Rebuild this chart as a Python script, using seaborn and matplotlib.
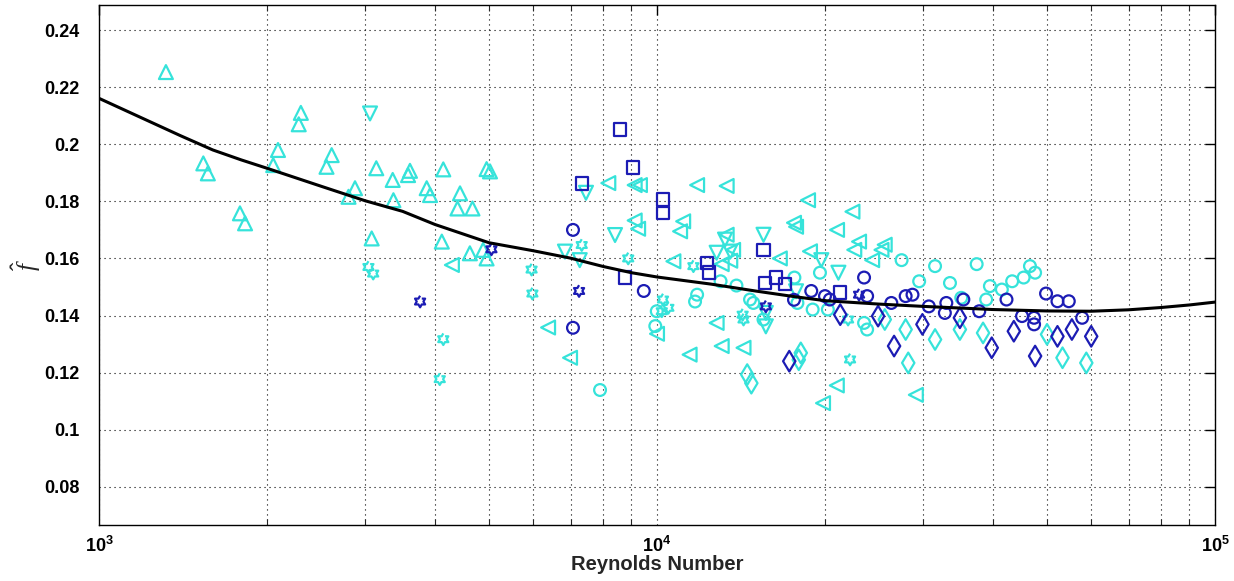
import numpy as np
import pandas as pd
import seaborn as sns
import matplotlib.pyplot as plt
from matplotlib.ticker import LogLocator, NullFormatter

# fitted curve
curve_re = [1000, 1200, 1400, 1600, 1800, 2000, 2500, 3000, 3500, 4000, 5000,
            6000, 7000, 8000, 9000, 10000, 12500, 15000, 17500, 20000, 25000,
            30000, 40000, 50000, 60000, 70000, 80000, 90000, 100000]
curve_f = [0.2161, 0.2090, 0.2030, 0.1980, 0.1945, 0.1916, 0.1853, 0.1802,
           0.1765, 0.1719, 0.1655, 0.1627, 0.1601, 0.1572, 0.1550, 0.1535,
           0.1510, 0.1486, 0.1467, 0.1452, 0.1440, 0.1432, 0.1421, 0.1416,
           0.1415, 0.1420, 0.1428, 0.1437, 0.1447]

# cyan series
c_up_re = [1318, 2300, 2280, 2093, 2052, 2612, 2557, 1538, 1567, 2876, 2800,
           1789, 1827, 3081, 3140, 3360, 3370, 3608, 3580, 3866, 3920, 4140,
           4436, 4390, 4670, 4950, 5020, 4115, 4620, 4880, 4950]
c_up_f = [0.2253, 0.211, 0.207, 0.198, 0.1927, 0.1962, 0.1921, 0.1933, 0.1898,
          0.1846, 0.1816, 0.1758, 0.1723, 0.167, 0.1916, 0.1875, 0.1804, 0.1907,
          0.1892, 0.1846, 0.1822, 0.1912, 0.1828, 0.1775, 0.1775, 0.1913, 0.1905,
          0.1659, 0.1618, 0.163, 0.160]

c_down_re = [3060, 7460, 8410, 6840, 7270, 12790, 13240, 13530, 15520, 15670,
             19700, 21140, 17750, 15670]
c_down_f = [0.2108, 0.183, 0.1682, 0.1624, 0.1594, 0.162, 0.1666, 0.1624,
            0.1683, 0.1362, 0.1594, 0.155, 0.1485, 0.1409]

c_left_re = [4290, 6380, 6985, 8180, 9320, 9120, 9120, 9250, 10000, 10700,
             11800, 11140, 11000, 13330, 13060, 13530, 12790, 13060, 14290,
             11440, 13330, 18650, 17750, 17600, 22400, 21020, 23020, 22570,
             25250, 25590, 18800, 24300, 21000, 19840, 29100, 13690, 16600]
c_left_f = [0.1577, 0.1358, 0.1252, 0.1864, 0.1857, 0.1857, 0.1733, 0.1704,
            0.1336, 0.159, 0.1857, 0.173, 0.1695, 0.1683, 0.158, 0.1592, 0.1374,
            0.1293, 0.1287, 0.1263, 0.1854, 0.1804, 0.1711, 0.1725, 0.1764,
            0.170, 0.1659, 0.163, 0.163, 0.1648, 0.1625, 0.1594, 0.1155, 0.1093,
            0.1122, 0.163, 0.160]

c_circ_re = [7905, 9930, 9990, 11800, 11700, 13000, 14680, 15520, 13880, 14880,
             17630, 19590, 17850, 19010, 20240, 23500, 23800, 27440, 31500,
             37400, 29500, 33500, 35100, 38900, 39500, 41500, 43300, 45400,
             46600, 47600]
c_circ_f = [0.1139, 0.1363, 0.1415, 0.1473, 0.1449, 0.152, 0.1456, 0.1386,
            0.1505, 0.1444, 0.1533, 0.155, 0.1444, 0.1421, 0.1421, 0.1374,
            0.1351, 0.1594, 0.1573, 0.158, 0.152, 0.1514, 0.1462, 0.1456,
            0.1503, 0.1491, 0.152, 0.1533, 0.1573, 0.155]

c_diam_re = [14510, 14760, 18100, 17950, 25600, 27900, 28200, 31500, 34900,
             38400, 50000, 53300, 58800]
c_diam_f = [0.1193, 0.1163, 0.1269, 0.1245, 0.1386, 0.1351, 0.1234, 0.1316,
            0.1351, 0.1339, 0.1334, 0.1252, 0.1234]

c_hex_re = [3040, 3100, 4140, 4080, 5960, 5980, 7330, 8880, 10250, 10480,
            10200, 11620, 14240, 14290, 22000, 22180]
c_hex_f = [0.157, 0.1547, 0.1317, 0.1177, 0.1561, 0.1477, 0.1647, 0.160,
           0.1456, 0.1427, 0.1415, 0.1573, 0.1403, 0.1386, 0.1386, 0.1246]

# dark blue series
d_sq_re = [8585, 9050, 7330, 10250, 10250, 8770, 12280, 12400, 15520, 15600,
           16950, 16350, 21300]
d_sq_f = [0.2052, 0.1918, 0.1863, 0.1807, 0.176, 0.1533, 0.1585, 0.155,
          0.163, 0.1514, 0.151, 0.1533, 0.148]

d_plus_re = [4060, 6090, 8180, 10200, 12000, 14290, 16300, 18270, 20240,
             22400, 24580, 26580]
d_plus_f = [0.181, 0.1349, 0.1577, 0.1682, 0.1533, 0.1573, 0.1676, 0.1573,
            0.1573, 0.1569, 0.1539, 0.1533]

d_circ_re = [7070, 7070, 9470, 18900, 20000, 23500, 23800, 26300, 27900, 28700,
             30700, 33000, 32800, 35400, 37800, 42300, 49800, 52200, 54700,
             45100, 47400, 47400, 57800, 17600, 20400]
d_circ_f = [0.170, 0.1357, 0.1486, 0.1486, 0.1468, 0.1533, 0.1468, 0.1444,
            0.1468, 0.1473, 0.1432, 0.1444, 0.1409, 0.1456, 0.1415, 0.1456,
            0.1477, 0.145, 0.145, 0.1398, 0.1392, 0.1369, 0.1392, 0.1455, 0.1456]

d_diam_re = [17260, 21300, 24900, 26600, 29900, 34900, 43600, 39800, 47600,
             52200, 55400, 60000]
d_diam_f = [0.124, 0.1403, 0.1398, 0.1293, 0.1369, 0.1392, 0.1345, 0.1287,
            0.1258, 0.1327, 0.1351, 0.1327]

d_hex_re = [3762, 5050, 7250, 15670, 23020]
d_hex_f = [0.1449, 0.1632, 0.1486, 0.1432, 0.1473]

ytick_vals = [0.08, 0.10, 0.12, 0.14, 0.16, 0.18, 0.20, 0.22, 0.24]
ytick_labels = ['0.08', '0.1', '0.12', '0.14', '0.16', '0.18', '0.2', '0.22', '0.24']
xtick_vals = [1e3, 1e4, 1e5]
xtick_labels = [r'$\mathbf{10^{3}}$', r'$\mathbf{10^{4}}$', r'$\mathbf{10^{5}}$']

CYAN = '#36E3DA'
DARK = '#1C1CB4'

# six-pointed star (hexagram) marker outline
ang = np.deg2rad(np.arange(12) * 30 + 90)
rad = np.where(np.arange(12) % 2 == 0, 1.0, 0.577)
hexagram = list(zip(rad * np.cos(ang), rad * np.sin(ang)))

series = [
    (c_up_re, c_up_f, '^', CYAN, 100),
    (c_down_re, c_down_f, 'v', CYAN, 100),
    (c_left_re, c_left_f, '<', CYAN, 100),
    (c_circ_re, c_circ_f, 'o', CYAN, 72),
    (c_diam_re, c_diam_f, 'd', CYAN, 110),
    (c_hex_re, c_hex_f, hexagram, CYAN, 70),
    (d_sq_re, d_sq_f, 's', DARK, 80),
    (d_plus_re, d_plus_f, '+', DARK, 90),
    (d_circ_re, d_circ_f, 'o', DARK, 72),
    (d_diam_re, d_diam_f, 'd', DARK, 110),
    (d_hex_re, d_hex_f, hexagram, DARK, 70),
]

sns.set_style('white')
plt.rcParams['font.family'] = ['Liberation Sans', 'DejaVu Sans']
plt.rcParams['mathtext.fontset'] = 'custom'
plt.rcParams['mathtext.rm'] = 'Liberation Sans'
plt.rcParams['mathtext.bf'] = 'Liberation Sans:bold'
plt.rcParams['mathtext.it'] = 'Liberation Serif:italic'

fig = plt.figure(figsize=(12.34, 5.81), dpi=100)
ax = fig.add_axes([99 / 1234, 1 - 525 / 581, 1116 / 1234, 520 / 581])

for re_vals, f_vals, mk, col, size in series:
    df = pd.DataFrame({'Re': re_vals, 'f': f_vals})
    sns.scatterplot(data=df, x='Re', y='f', marker=mk, color=col,
                    facecolor='none', edgecolor=col, s=size, linewidth=1.6,
                    ax=ax, zorder=3, legend=False)

sns.lineplot(x=curve_re, y=curve_f, color='black', lw=2.2, ax=ax, zorder=4)

ax.set_xscale('log')
ax.set_xlim(1e3, 1e5)
ax.set_ylim(0.0666, 0.2488)

ax.set_xticks(xtick_vals)
ax.set_xticklabels(xtick_labels)
ax.xaxis.set_minor_locator(LogLocator(base=10, subs=np.arange(2, 10)))
ax.xaxis.set_minor_formatter(NullFormatter())
ax.set_yticks(ytick_vals)
ax.set_yticklabels(ytick_labels)

ax.grid(True, which='major', color='black', linestyle=(0, (1, 3.5)), lw=0.8)
ax.grid(True, which='minor', axis='x', color='black', linestyle=(0, (1, 3.5)), lw=0.8)

ax.tick_params(axis='both', which='major', direction='in', length=7, width=1,
               top=True, right=True, labelsize=13, colors='black')
ax.tick_params(axis='x', which='major', pad=8)
ax.tick_params(axis='x', which='minor', direction='in', length=4, width=0.8,
               top=True, bottom=True)
ax.tick_params(axis='y', which='major', pad=14)
for lab in ax.get_yticklabels():
    lab.set_fontweight('bold')

for sp in ax.spines.values():
    sp.set_color('black')
    sp.set_linewidth(1.0)

ax.set_xlabel('Reynolds Number', fontsize=14.5, fontweight='bold')
ax.xaxis.set_label_coords(0.5, -0.058)
ax.set_ylabel(r'$\hat{f}$', fontsize=18)
ax.yaxis.set_label_coords(-0.05, 0.5)

fig.savefig('out.png', dpi=100)
